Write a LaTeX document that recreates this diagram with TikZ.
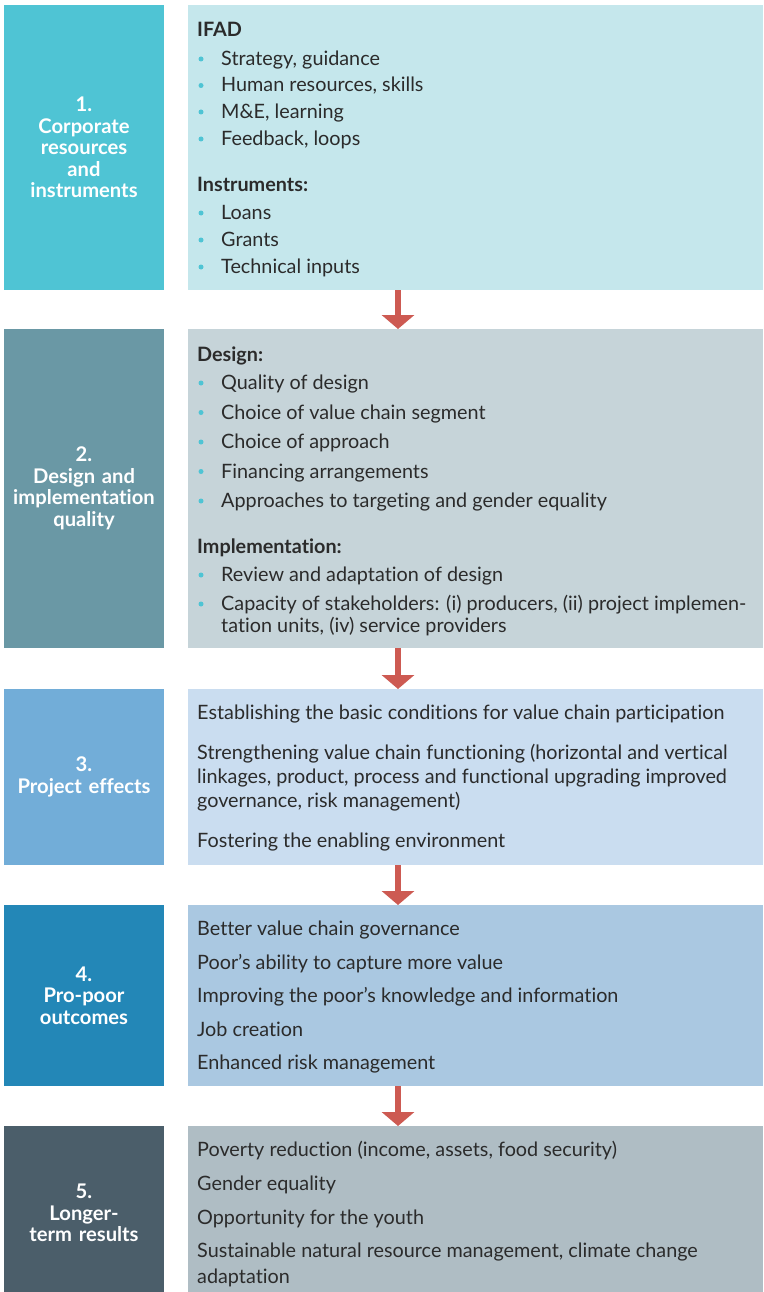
\documentclass[tikz,border=0pt]{standalone}
\usepackage{fontspec}
\setmainfont{Lato}[Ligatures=NoCommon]
\usetikzlibrary{arrows.meta}
\definecolor{lA}{HTML}{4FC4D4}
\definecolor{rA}{HTML}{C5E7EC}
\definecolor{lB}{HTML}{6A98A5}
\definecolor{rB}{HTML}{C6D4D9}
\definecolor{lC}{HTML}{72ADD8}
\definecolor{rC}{HTML}{CADDF0}
\definecolor{lD}{HTML}{2387B7}
\definecolor{rD}{HTML}{AAC8E1}
\definecolor{lE}{HTML}{4B5E6A}
\definecolor{rE}{HTML}{AFBDC4}
\definecolor{arr}{HTML}{CD5A52}
\definecolor{txt}{HTML}{2B2B2B}
\definecolor{bul}{HTML}{4FC4D4}
\tikzset{
  lbox/.style={inner sep=0, minimum width=160, text width=156, align=center, text=white, font=\fontsize{20.2}{21.5}\selectfont\bfseries},
  rbox/.style={inner sep=0, minimum width=575, anchor=north west},
  item/.style={inner sep=0, anchor=base west, text=txt, font=\fontsize{19.8}{24}\selectfont, align=left},
  head/.style={item, font=\fontsize{19.8}{24}\selectfont\bfseries},
  bdot/.style={circle, fill=bul, inner sep=0, minimum size=5},
  flow/.style={arr, line width=6.5, -{Triangle[width=32pt,length=14pt]}}
}
\newcommand{\bit}[3]{\node[bdot] (#1d) at (201,#2) {}; \node[item] (#1) at (221,#2+6.5) {#3};}
\newcommand{\pit}[3]{\node[item] (#1) at (197,#2+6.5) {#3};}
\begin{document}
\begin{tikzpicture}[x=1pt,y=-1pt]
\useasboundingbox (0,0) rectangle (763,1292);
\fill[white] (0,0) rectangle (763,1292);
% right boxes
\node[rbox, fill=rA, minimum height=285] (r1) at (188,5) {};
\node[rbox, fill=rB, minimum height=319] (r2) at (188,329) {};
\node[rbox, fill=rC, minimum height=176] (r3) at (188,689) {};
\node[rbox, fill=rD, minimum height=181] (r4) at (188,905) {};
\node[rbox, fill=rE, minimum height=166] (r5) at (188,1126) {};
% left boxes
\node[lbox, fill=lA, minimum height=285] (l1) at (84,147.5) {1.\\Corporate\\resources\\and\\instruments};
\node[lbox, fill=lB, minimum height=319] (l2) at (84,488.5) {2.\\Design and\\implementation\\quality};
\node[lbox, fill=lC, minimum height=176] (l3) at (84,777) {3.\\Project effects};
\node[lbox, fill=lD, minimum height=181] (l4) at (84,995.5) {4.\\Pro-poor\\outcomes};
\node[lbox, fill=lE, minimum height=166] (l5) at (84,1209) {};
\node[lbox] (l5t) at (84,1213) {5.\\Longer-\\term results};
% arrows
\coordinate (ax) at (398,0);
\draw[flow] (r1.south -| ax) -- (r2.north -| ax);
\draw[flow] (r2.south -| ax) -- (r3.north -| ax);
\draw[flow] (r3.south -| ax) -- (r4.north -| ax);
\draw[flow] (r4.south -| ax) -- (r5.north -| ax);
% box 1 text
\node[head] (h1) at (197,36.5) {IFAD};
\bit{a1}{59}{Strategy, guidance}
\bit{a2}{85.5}{Human resources, skills}
\bit{a3}{112}{M\&E, learning}
\bit{a4}{139}{Feedback, loops}
\node[head] (h2) at (197,191.5) {Instruments:};
\bit{a5}{213}{Loans}
\bit{a6}{240}{Grants}
\bit{a7}{267}{Technical inputs}
% box 2 text
\node[head] (h3) at (197,361.5) {Design:};
\bit{b1}{383}{Quality of design}
\bit{b2}{412.5}{Choice of value chain segment}
\bit{b3}{442}{Choice of approach}
\bit{b4}{471.5}{Financing arrangements}
\bit{b5}{501}{Approaches to targeting and gender equality}
\node[head] (h4) at (197,553.5) {Implementation:};
\bit{b6}{575}{Review and adaptation of design}
\node[bdot] (b7d) at (201,604) {};
\node[item, font=\fontsize{19.8}{22}\selectfont] (b7) at (221,632.5) {Capacity of stakeholders: (i) producers, (ii) project implemen-\\tation units, (iv) service providers};
% box 3 text
\pit{c1}{713}{Establishing the basic conditions for value chain participation}
\node[item] (c2) at (197,807.5) {Strengthening value chain functioning (horizontal and vertical\\linkages, product, process and functional upgrading improved\\governance, risk management)};
\pit{c3}{841}{Fostering the enabling environment}
% box 4 text
\pit{d1}{929}{Better value chain governance}
\pit{d2}{962.5}{Poor’s ability to capture more value}
\pit{d3}{996}{Improving the poor’s knowledge and information}
\pit{d4}{1029.5}{Job creation}
\pit{d5}{1063}{Enhanced risk management}
% box 5 text
\pit{e1}{1150}{Poverty reduction (income, assets, food security)}
\pit{e2}{1184}{Gender equality}
\pit{e3}{1218}{Opportunity for the youth}
\node[item, font=\fontsize{19.8}{26}\selectfont] (e4) at (197,1283.5) {Sustainable natural resource management, climate change\\adaptation};
\end{tikzpicture}
\end{document}
